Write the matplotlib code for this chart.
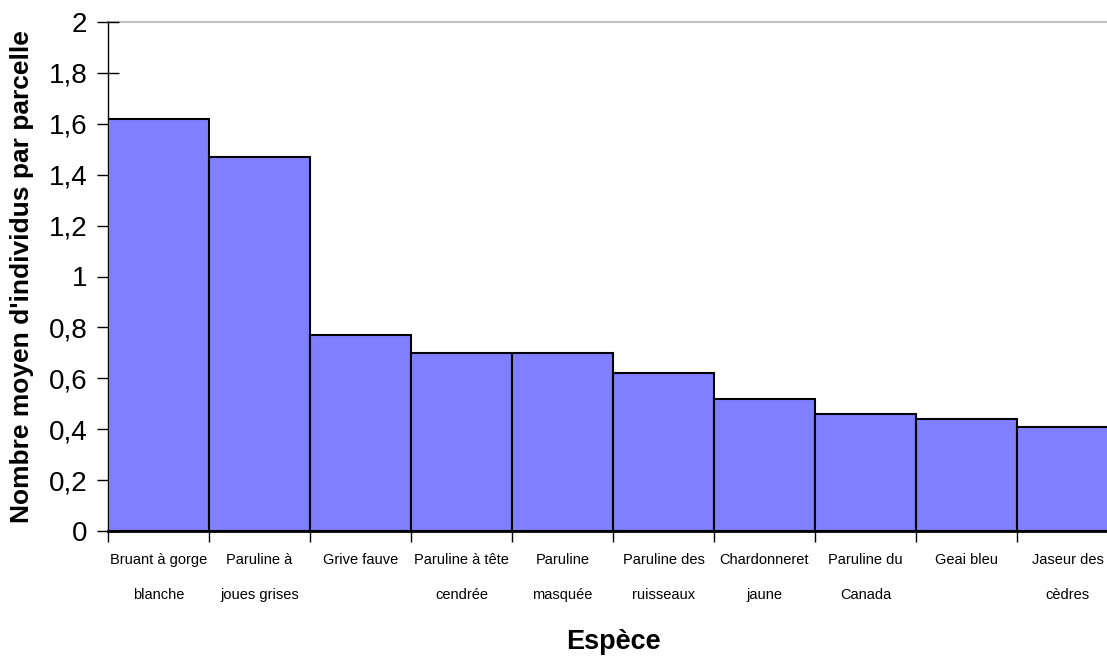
import numpy as np
import matplotlib
matplotlib.use("Agg")
import matplotlib.pyplot as plt

# ── Data ──────────────────────────────────────────────────────────────────────
especes = ["Bruant à gorge\nblanche", "Paruline à\njoues grises", "Grive fauve",
           "Paruline à tête\ncendrée", "Paruline\nmasquée", "Paruline des\nruisseaux",
           "Chardonneret\njaune", "Paruline du\nCanada", "Geai bleu", "Jaseur des\ncèdres"]
moyennes = [1.62, 1.47, 0.77, 0.70, 0.70, 0.62, 0.52, 0.46, 0.44, 0.41]
y_ticks = [0, 0.2, 0.4, 0.6, 0.8, 1.0, 1.2, 1.4, 1.6, 1.8, 2.0]

plt.rcParams['font.family'] = ['Liberation Sans', 'DejaVu Sans']

fig = plt.figure(figsize=(11.07, 6.6), dpi=100)
ax = fig.add_axes([108/1107, 129/660, 1010/1107, 509/660])

x = np.arange(len(especes))
ax.bar(x, moyennes, width=1.0, color='#8080FF', edgecolor='black', linewidth=1.5, zorder=3)

ax.set_xlim(-0.5, len(especes) - 0.5)
ax.set_ylim(0, 2)
ax.axhline(2, color='#C0C0C0', lw=1.5, zorder=1, clip_on=False)

# y axis
ax.set_yticks(y_ticks)
ax.set_yticklabels([f"{v:g}".replace('.', ',') for v in y_ticks], fontsize=20)
ax.tick_params(axis='y', direction='inout', length=16, width=1, pad=7)
ax.set_ylabel("Nombre moyen d'individus par parcelle", fontsize=19,
              fontweight='bold', va='center')
ax.yaxis.set_label_coords(-86/1010, 0.5)

# x axis: labels at centres, tick marks at boundaries
ax.set_xticks(x)
ax.set_xticklabels(especes, fontsize=10.5, linespacing=2.9)
ax.tick_params(axis='x', which='major', length=0, pad=16)
ax.set_xticks(np.arange(-0.5, len(especes)), minor=True)
ax.tick_params(axis='x', which='minor', direction='out', length=8, width=1)
ax.set_xlabel("Espèce", fontsize=19.5, fontweight='bold', va='center')
ax.xaxis.set_label_coords(0.5, -111/509)

for side in ['top', 'right']:
    ax.spines[side].set_visible(False)
ax.spines['left'].set_linewidth(1)
ax.spines['bottom'].set_linewidth(2)

plt.savefig("out.png", dpi=100)
